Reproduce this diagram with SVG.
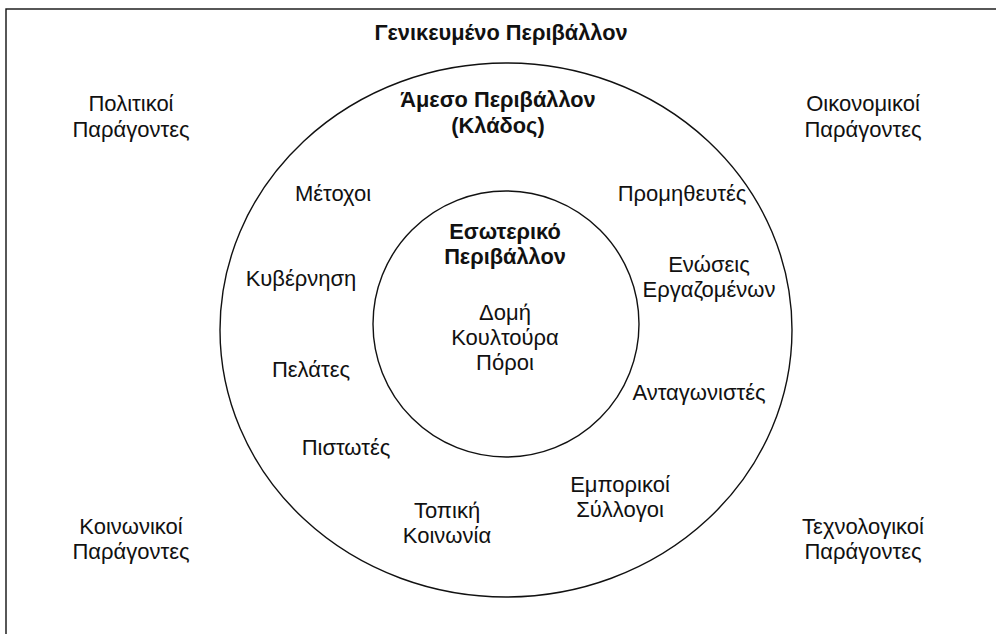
<svg xmlns="http://www.w3.org/2000/svg" width="996" height="634" viewBox="0 0 996 634">
  <style>
    text { font-family: "Liberation Sans", Arial, sans-serif; font-size: 22px; fill: #111; text-anchor: middle; }
    .b { font-weight: bold; font-size: 21.8px; }
    .ring { fill: none; stroke: #111; stroke-width: 1.4; }
  </style>
  <rect width="996" height="634" fill="#fff"/>
  <!-- frame of the general environment -->
  <g id="general-environment">
    <rect x="6" y="9" width="1000" height="640" class="ring"/>
    <text class="b" x="501" y="40">Γενικευμένο Περιβάλλον</text>
  </g>
  <g id="political">
    <text x="131" y="111">Πολιτικοί</text>
    <text x="131" y="137">Παράγοντες</text>
  </g>
  <g id="economic">
    <text x="863" y="111">Οικονομικοί</text>
    <text x="863" y="137">Παράγοντες</text>
  </g>
  <g id="social">
    <text x="131" y="534">Κοινωνικοί</text>
    <text x="131" y="559">Παράγοντες</text>
  </g>
  <g id="technological">
    <text x="863" y="534">Τεχνολογικοί</text>
    <text x="863" y="559">Παράγοντες</text>
  </g>
  <!-- task environment ring -->
  <g id="task-environment">
    <ellipse cx="506" cy="330" rx="286" ry="267" class="ring"/>
    <text class="b" x="498" y="107">Άμεσο Περιβάλλον</text>
    <text class="b" x="498" y="133">(Κλάδος)</text>
  </g>
  <g id="shareholders"><text x="333" y="201">Μέτοχοι</text></g>
  <g id="suppliers"><text x="682" y="201">Προμηθευτές</text></g>
  <g id="government"><text x="301" y="286">Κυβέρνηση</text></g>
  <g id="unions">
    <text x="709" y="272">Ενώσεις</text>
    <text x="709" y="297">Εργαζομένων</text>
  </g>
  <g id="customers"><text x="311" y="377">Πελάτες</text></g>
  <g id="competitors"><text x="699" y="400">Ανταγωνιστές</text></g>
  <g id="creditors"><text x="346" y="455">Πιστωτές</text></g>
  <g id="trade-associations">
    <text x="620" y="492">Εμπορικοί</text>
    <text x="620" y="517">Σύλλογοι</text>
  </g>
  <g id="local-community">
    <text x="447" y="518">Τοπική</text>
    <text x="447" y="543">Κοινωνία</text>
  </g>
  <!-- internal environment -->
  <g id="internal-environment">
    <circle cx="506" cy="324" r="133" class="ring"/>
    <text class="b" x="505" y="239">Εσωτερικό</text>
    <text class="b" x="505" y="264">Περιβάλλον</text>
    <text x="505" y="320">Δομή</text>
    <text x="505" y="345">Κουλτούρα</text>
    <text x="505" y="370">Πόροι</text>
  </g>
  <g id="connectors"/>
</svg>
